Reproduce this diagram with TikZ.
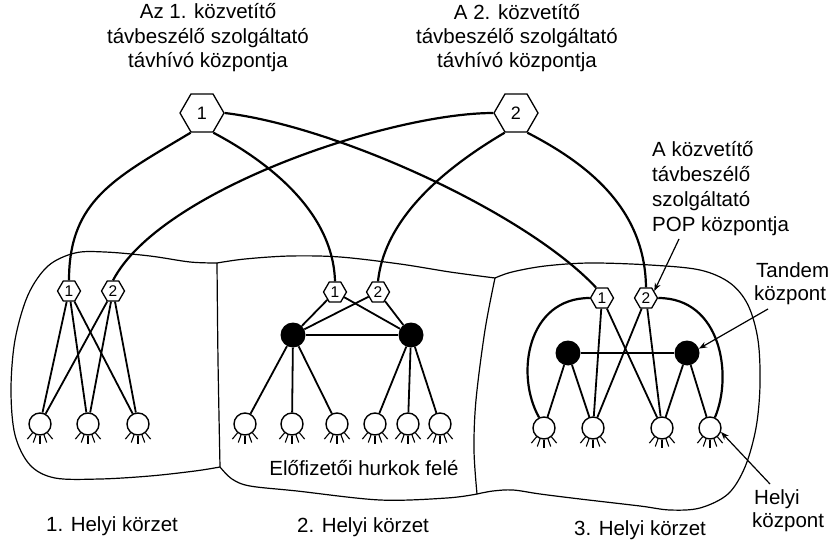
\documentclass[tikz,border=0pt]{standalone}
\usepackage{fontspec}
\setmainfont{Liberation Sans}
\usetikzlibrary{shapes.geometric,arrows.meta}
\begin{document}
\begin{tikzpicture}[x=1pt,y=-1pt,
  hexs/.style={regular polygon, regular polygon sides=6, draw, minimum size=23pt, inner sep=0pt, line width=1.3pt, fill=white, font=\fontsize{15.5}{15.5}\selectfont},
  hexb/.style={regular polygon, regular polygon sides=6, draw, minimum size=44pt, inner sep=0pt, line width=1.3pt, fill=white, font=\fontsize{18}{18}\selectfont},
  loc/.style={circle, draw, minimum size=22pt, inner sep=0pt, line width=1.4pt, fill=white},
  tand/.style={circle, fill=black, minimum size=25pt, inner sep=0pt},
  trunk/.style={line width=2.2pt},
  link/.style={line width=1.8pt},
  border/.style={line width=1.2pt},
  foot/.style={line width=1.1pt},
  txt/.style={font=\fontsize{20.5}{23}\selectfont, anchor=base, inner sep=0pt},
  txtl/.style={txt, anchor=base west},
  annot/.style={-{Stealth[length=8pt,width=6pt]}, line width=1.2pt}]
\useasboundingbox (0,0) rectangle (833,540);
\fill[white] (0,0) rectangle (833,540);

% region outlines
\draw[border] plot[smooth, tension=0.55] coordinates {(217,263) (190,262) (150,256) (105,252) (75,253) (48,266) (28,295) (15,340) (11,390) (15,435) (30,465) (55,478) (100,479) (150,476) (195,471) (220,467)};
\draw[border] plot[smooth] coordinates {(217,263) (218,360) (220,467)};
\draw[border] plot[smooth, tension=0.55] coordinates {(217,263) (245,259) (290,256) (340,257) (400,264) (450,272) (495,278)};
\draw[border] plot[smooth, tension=0.55] coordinates {(220,467) (232,479) (250,486) (297,491) (380,500) (447,498) (477,494)};
\draw[border] plot[smooth, tension=0.55] coordinates {(495,278) (485,330) (476,400) (474,450) (477,494)};
\draw[border] plot[smooth, tension=0.55] coordinates {(495,278) (512,272) (545,266) (590,263) (650,265) (700,270) (730,283) (748,305) (758,340) (760,385) (756,428) (745,467) (728,494) (700,508) (670,510) (640,506) (580,499) (540,494) (513,490) (493,491) (477,494)};

% top offices
\node[hexb] (H1) at (202,113) {1};
\node[hexb] (H2) at (516,113) {2};

% POP offices
\node[hexs] (r1a) at (69,291) {1};
\node[hexs] (r1b) at (113,291) {2};
\node[hexs] (r2a) at (335,292) {1};
\node[hexs] (r2b) at (378,292) {2};
\node[hexs] (r3a) at (602,298) {1};
\node[hexs] (r3b) at (646,298) {2};

% tandem offices
\node[tand] (t2a) at (293,335) {};
\node[tand] (t2b) at (411,335) {};
\node[tand] (t3a) at (568,353) {};
\node[tand] (t3b) at (687,353) {};

% local offices
\node[loc] (c11) at (40,424) {};
\node[loc] (c12) at (88,424) {};
\node[loc] (c13) at (138,424) {};
\node[loc] (c21) at (245,424) {};
\node[loc] (c22) at (292,424) {};
\node[loc] (c23) at (337,424) {};
\node[loc] (c24) at (375,424) {};
\node[loc] (c25) at (408,424) {};
\node[loc] (c26) at (440,424) {};
\node[loc] (c31) at (544,428) {};
\node[loc] (c32) at (593,428) {};
\node[loc] (c33) at (662,428) {};
\node[loc] (c34) at (710,428) {};

\foreach \c in {c11,c12,c13,c21,c22,c23,c24,c25,c26,c31,c32,c33,c34}
  \foreach \a in {-130,-110,-90,-70,-50}
    \draw[foot] (\c.\a) -- ++(\a:8pt);

% trunks
\draw[trunk] (H1.240) .. controls (115,178) and (69,200) .. (r1a.north);
\draw[trunk] (H1.300) .. controls (265,160) and (333,210) .. (r2a.north);
\draw[trunk] (H1.east) .. controls (335,126) and (525,212) .. (r3a.120);
\draw[trunk] (H2.west) .. controls (390,113) and (160,190) .. (r1b.north);
\draw[trunk] (H2.240) .. controls (450,165) and (385,215) .. (r2b.north);
\draw[trunk] (H2.300) .. controls (590,165) and (645,210) .. (r3b.north);
\draw[trunk] (r3a.west) .. controls (527,298) and (515,375) .. (c31.115);
\draw[trunk] (r3b.east) .. controls (721,298) and (733,375) .. (c34.65);

% region 1 links
\foreach \c in {c11,c12,c13} {\draw[link] (r1a) -- (\c); \draw[link] (r1b) -- (\c);}
% region 2 links
\draw[link] (r2a) -- (t2a); \draw[link] (r2a) -- (t2b);
\draw[link] (r2b) -- (t2a); \draw[link] (r2b) -- (t2b);
\draw[link] (t2a) -- (t2b);
\foreach \c in {c21,c22,c23} \draw[link] (t2a) -- (\c);
\foreach \c in {c24,c25,c26} \draw[link] (t2b) -- (\c);
% region 3 links
\foreach \c in {c32,c33} {\draw[link] (r3a) -- (\c); \draw[link] (r3b) -- (\c);}
\draw[link] (t3a) -- (t3b);
\draw[link] (t3a) -- (c31); \draw[link] (t3a) -- (c32);
\draw[link] (t3b) -- (c33); \draw[link] (t3b) -- (c34);

% labels
\node[txt] (la1) at (208,19) {Az 1. közvetítő};
\node[txt] (la2) at (208,43.5) {távbeszélő szolgáltató};
\node[txt] (la3) at (208,68) {távhívó központja};
\node[txt] (lb1) at (517,20) {A 2. közvetítő};
\node[txt] (lb2) at (517,44) {távbeszélő szolgáltató};
\node[txt] (lb3) at (517,68) {távhívó központja};

\node[txtl] (lp1) at (652,157) {A közvetítő};
\node[txtl] (lp2) at (652,182) {távbeszélő};
\node[txtl] (lp3) at (652,207) {szolgáltató};
\node[txtl] (lp4) at (652,232) {POP központja};
\coordinate (pa) at (679,239);
\draw[annot] (pa) -- (r3b.40);

\node[txtl] (lt1) at (756,278) {Tandem};
\node[txtl] (lt2) at (754,301) {központ};
\coordinate (ta) at (768,309);
\draw[annot] (ta) -- (t3b.20);

\node[txtl] (lh1) at (754,504) {Helyi};
\node[txtl] (lh2) at (752,527) {központ};
\coordinate (ha) at (770,484);
\draw[annot] (ha) -- (c34.-20);

\node[txt] (lf) at (364,475) {Előfizetői hurkok felé};
\node[txt] (k1) at (112,531) {1. Helyi körzet};
\node[txt] (k2) at (363,532) {2. Helyi körzet};
\node[txt] (k3) at (640,535) {3. Helyi körzet};
\end{tikzpicture}
\end{document}
